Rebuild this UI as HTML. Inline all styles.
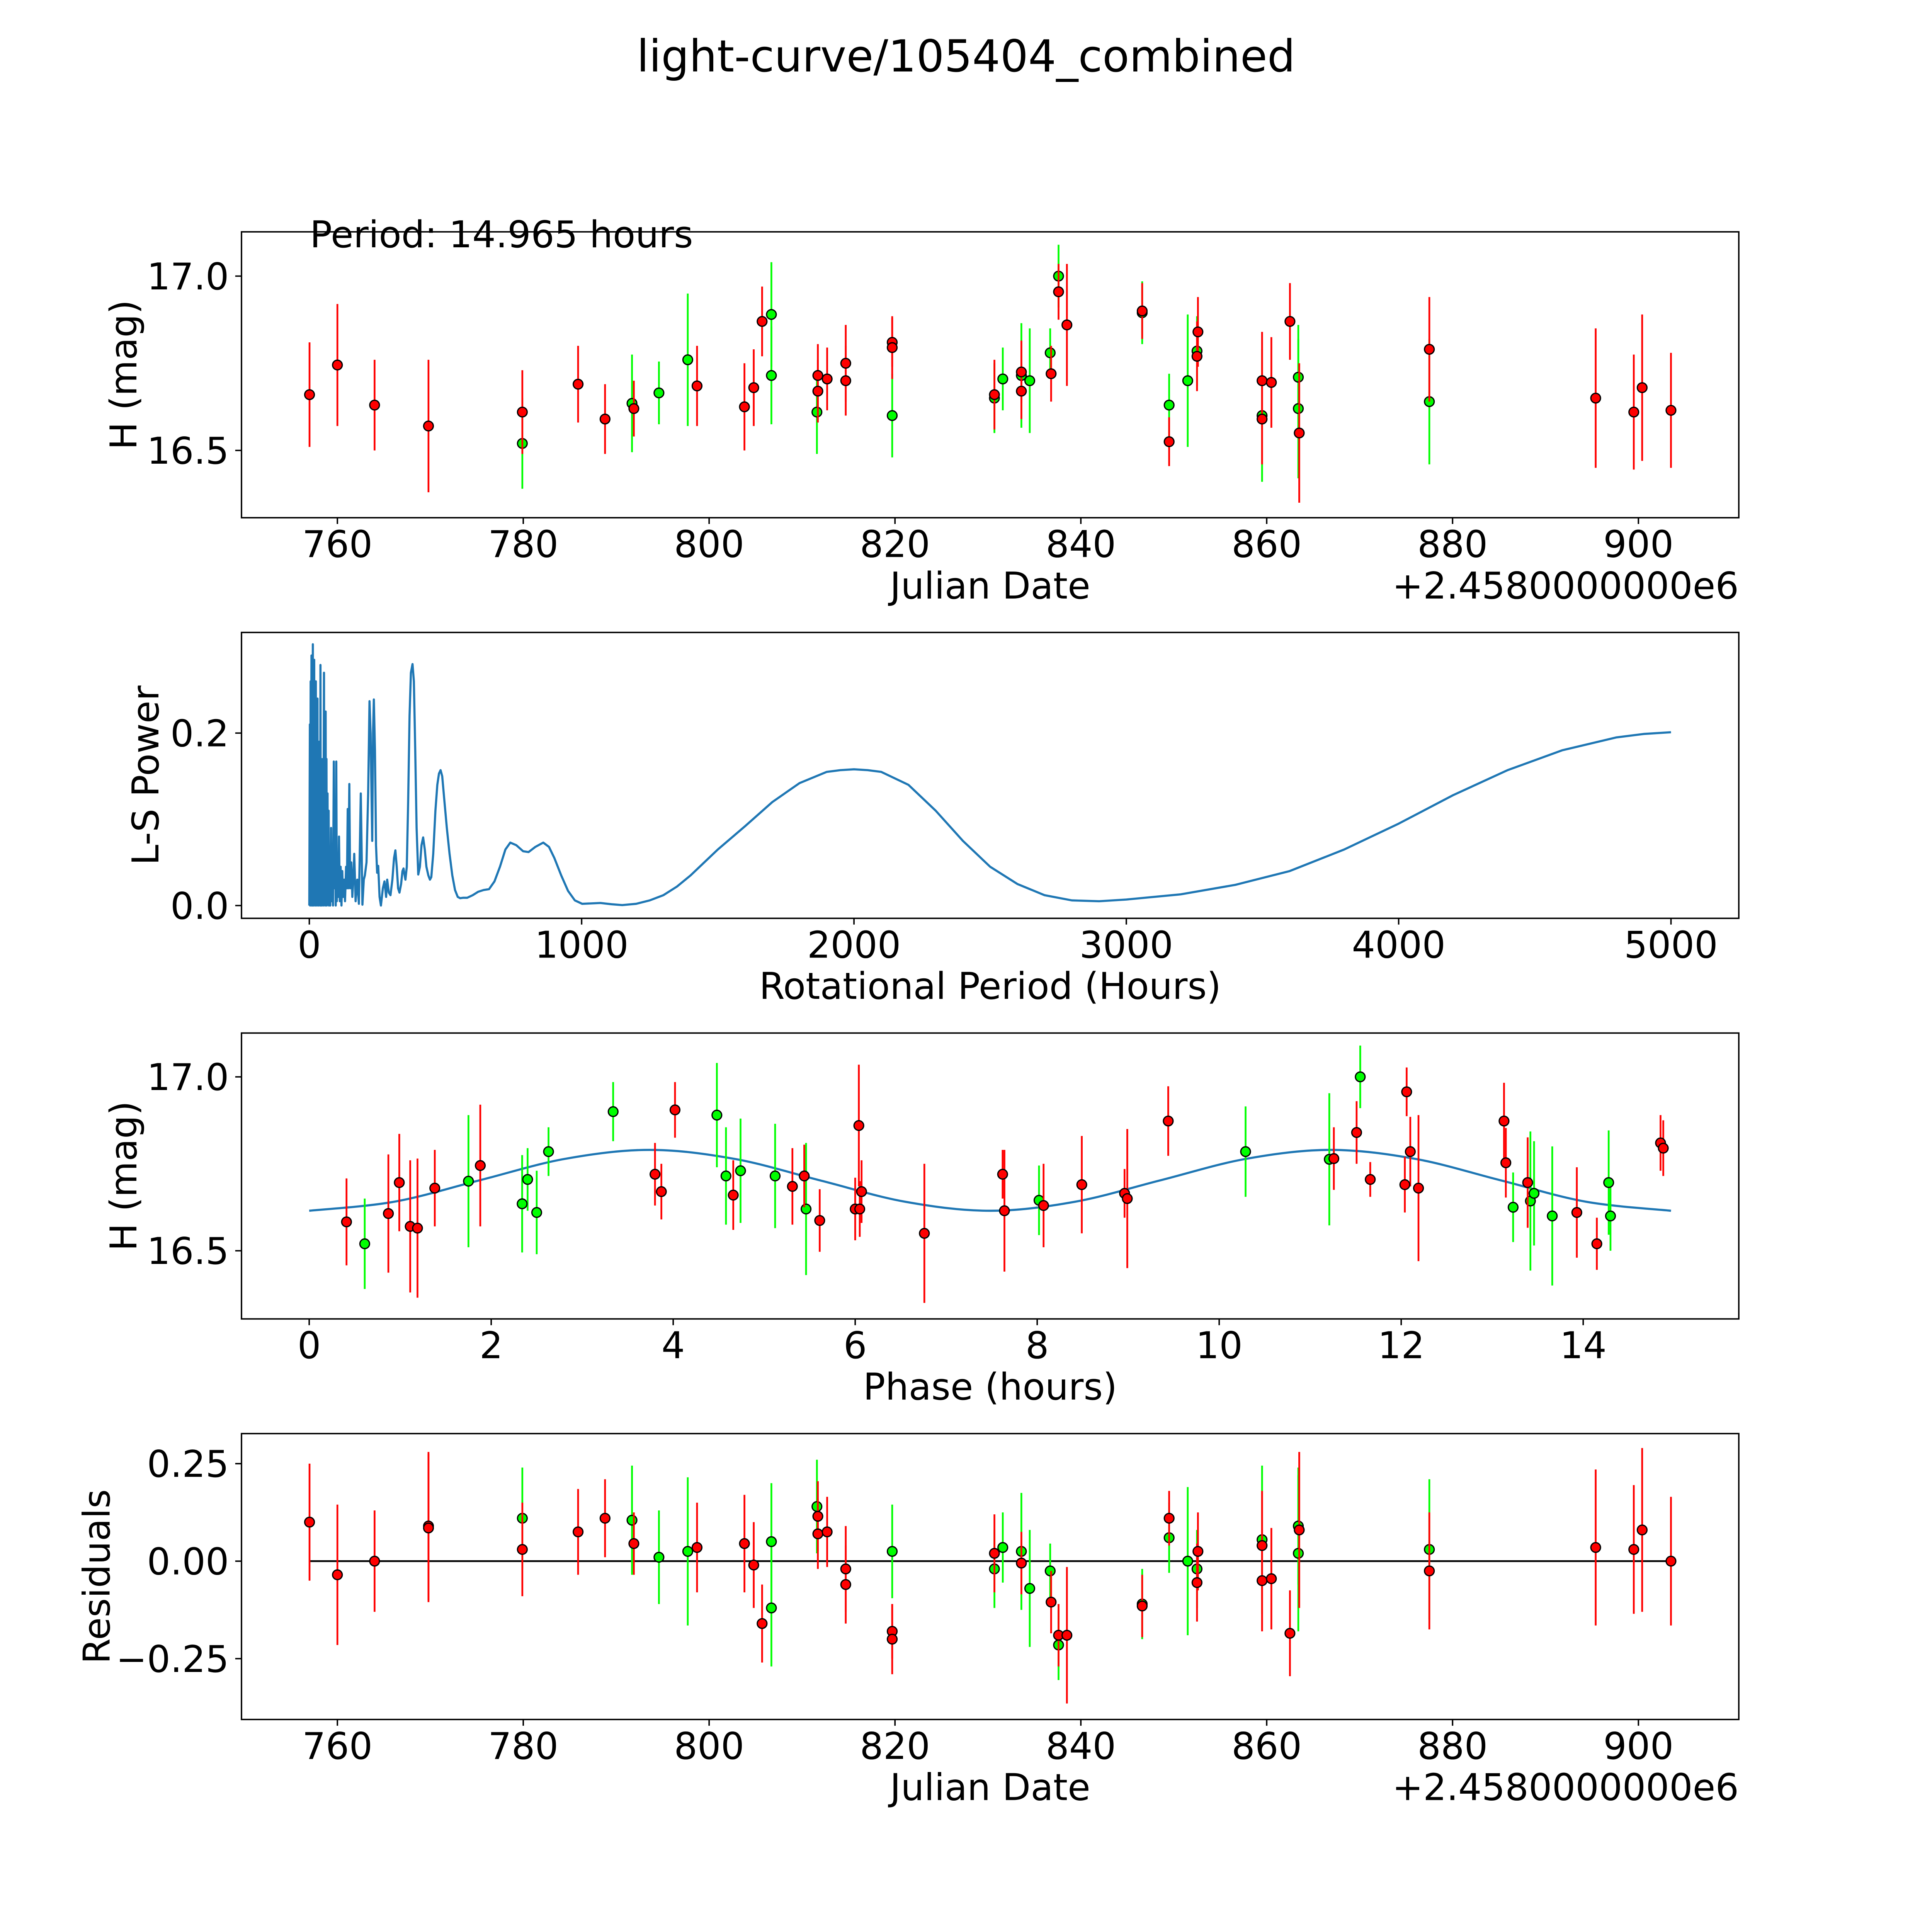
<!DOCTYPE html>
<html><head><meta charset="utf-8"><style>
html,body{margin:0;padding:0;background:#fff;width:100%;height:100%;overflow:hidden;}
svg{display:block;width:100vw;height:100vh;font-family:"DejaVu Sans","Liberation Sans",sans-serif;}
</style></head>
<body>
<svg id="fig" viewBox="0 0 5400 5400" preserveAspectRatio="none" xmlns="http://www.w3.org/2000/svg">
<rect width="5400" height="5400" fill="#fff"/>
<text x="2700" y="200" font-size="123" text-anchor="middle">light-curve/105404_combined</text>
</svg>
<script>
// ---- Panel 1: light curve ----
const lcDate=[757.0,760.0,764.0,769.8,779.9,779.9,785.9,788.8,791.7,791.9,794.6,797.7,798.7,803.8,804.8,805.7,806.7,806.7,811.6,811.7,811.7,812.7,814.7,814.7,819.7,819.7,819.7,830.7,830.7,831.6,833.6,833.6,833.6,834.5,836.7,836.8,837.6,837.6,838.5,846.6,846.6,849.5,849.5,851.5,852.6,852.5,852.5,859.5,859.5,859.5,860.5,862.5,863.4,863.4,863.5,877.5,877.5,895.4,899.5,900.4,903.5];
const lcMag=[16.66,16.745,16.63,16.57,16.61,16.52,16.69,16.59,16.635,16.62,16.665,16.76,16.685,16.625,16.68,16.87,16.89,16.715,16.61,16.715,16.67,16.705,16.75,16.70,16.81,16.795,16.60,16.66,16.65,16.705,16.725,16.715,16.67,16.70,16.78,16.72,17.0,16.955,16.86,16.895,16.90,16.63,16.525,16.70,16.84,16.785,16.77,16.70,16.60,16.59,16.695,16.87,16.71,16.62,16.55,16.79,16.64,16.65,16.61,16.68,16.615];
const lcErr=[0.15,0.175,0.13,0.19,0.12,0.13,0.11,0.10,0.14,0.08,0.09,0.19,0.115,0.125,0.11,0.10,0.15,0.14,0.12,0.09,0.09,0.09,0.11,0.10,0.07,0.09,0.12,0.10,0.10,0.09,0.09,0.15,0.08,0.15,0.07,0.08,0.09,0.08,0.175,0.09,0.08,0.09,0.07,0.19,0.10,0.10,0.10,0.14,0.19,0.13,0.13,0.11,0.15,0.20,0.20,0.15,0.18,0.20,0.165,0.21,0.165];
const lcBand=['r','r','r','r','r','g','r','r','g','r','g','g','r','r','r','r','g','g','g','r','r','r','r','r','r','r','g','r','g','g','r','g','r','g','g','r','g','r','r','g','r','g','r','g','r','g','r','r','g','r','r','r','g','g','r','r','g','r','r','r','r'];

// ---- Panel 2: periodogram ----
const lsPeriod=[0,2,3,5,6,8,9,10,11,13,14,15,16,18,19,21,22,24,25,27,28,30,31,33,34,36,37,39,40,41,42,44,45,47,48,50,51,54,55,57,58,60,61,63,64,67,68,71,72,75,77,80,82,85,87,90,92,95,97,99,101,104,106,109,112,115,118,121,124,128,131,135,138,141,143,147,150,154,158,162,165,170,176,182,189,195,200,204,210,216,221,225,231,234,237,241,245,249,253,258,263,270,276,282,286,292,298,305,311,316,321,326,331,337,342,346,350,353,358,363,368,373,379,384,389,394,400,406,412,418,424,430,437,443,448,455,463,470,476,482,488,495,505,515,525,535,545,554,565,580,600,620,640,660,680,700,720,738,760,785,805,830,859,880,900,925,950,975,1002,1035,1069,1110,1149,1200,1250,1300,1350,1400,1450,1500,1600,1700,1800,1900,1950,2000,2050,2100,2200,2300,2400,2500,2600,2700,2800,2900,3000,3200,3400,3600,3800,4000,4200,4400,4600,4800,4900,5000];
const lsPower=[0,0.21,0,0.26,0.02,0.29,0,0.2,0,0.303,0.01,0.25,0,0.285,0.02,0.22,0,0.26,0.01,0.17,0,0.24,0.01,0.16,0,0.19,0.02,0.15,0,0.279,0.03,0.17,0,0.12,0.01,0.17,0,0.27,0.02,0.13,0,0.225,0.01,0.17,0,0.13,0.01,0.11,0,0.06,0,0.09,0.005,0.06,0,0.167,0.02,0.08,0,0.167,0.005,0.06,0.01,0.08,0.005,0.045,0,0.04,0.01,0.03,0.005,0.045,0.02,0.112,0.02,0.141,0.02,0.05,0.01,0.035,0.06,0.005,0.03,0.002,0.13,0.001,0.03,0.035,0.05,0.13,0.237,0.2,0.075,0.2,0.239,0.18,0.07,0.038,0.046,0.01,0,0.02,0.028,0.01,0.03,0.015,0.012,0.03,0.055,0.064,0.045,0.02,0.015,0.025,0.04,0.043,0.035,0.03,0.045,0.12,0.22,0.27,0.28,0.26,0.18,0.09,0.036,0.045,0.07,0.079,0.065,0.045,0.035,0.03,0.033,0.06,0.11,0.14,0.153,0.157,0.15,0.125,0.09,0.06,0.035,0.018,0.01,0.0085,0.009,0.009,0.012,0.016,0.018,0.019,0.028,0.045,0.065,0.073,0.07,0.063,0.062,0.068,0.073,0.068,0.055,0.035,0.017,0.006,0.002,0.0025,0.003,0.0015,0.0005,0.002,0.006,0.012,0.022,0.035,0.05,0.065,0.092,0.12,0.142,0.155,0.157,0.158,0.157,0.155,0.14,0.11,0.075,0.045,0.025,0.012,0.006,0.005,0.007,0.013,0.024,0.04,0.065,0.095,0.128,0.157,0.18,0.195,0.199,0.201];

// ---- Panel 3: phased ----
const phPhase=[0.41,0.61,0.87,0.99,1.11,1.19,1.38,1.75,1.88,2.34,2.40,2.50,2.63,3.34,3.80,3.87,4.02,4.48,4.58,4.66,4.74,5.12,5.31,5.44,5.46,5.61,6.00,6.04,6.05,6.07,6.76,7.62,7.64,8.02,8.07,8.49,8.96,8.99,9.44,10.29,11.21,11.26,11.51,11.55,11.66,12.04,12.06,12.10,12.19,13.13,13.15,13.23,13.39,13.42,13.46,13.66,13.93,14.15,14.28,14.30,14.85,14.88];
const phMag=[16.583,16.52,16.607,16.696,16.57,16.565,16.68,16.70,16.745,16.635,16.705,16.61,16.785,16.90,16.72,16.67,16.905,16.89,16.715,16.66,16.73,16.715,16.685,16.715,16.62,16.587,16.62,16.86,16.62,16.67,16.55,16.72,16.615,16.645,16.63,16.69,16.665,16.65,16.873,16.785,16.763,16.765,16.84,17.0,16.705,16.69,16.957,16.785,16.68,16.873,16.753,16.625,16.696,16.643,16.665,16.60,16.61,16.52,16.696,16.60,16.81,16.795];
const phErr=[0.125,0.13,0.17,0.14,0.19,0.2,0.11,0.19,0.175,0.14,0.09,0.12,0.07,0.085,0.09,0.08,0.08,0.15,0.14,0.1,0.15,0.15,0.11,0.09,0.19,0.09,0.09,0.175,0.08,0.09,0.2,0.07,0.175,0.1,0.12,0.14,0.07,0.2,0.1,0.13,0.19,0.09,0.09,0.09,0.05,0.08,0.07,0.1,0.21,0.11,0.1,0.1,0.13,0.2,0.15,0.2,0.13,0.075,0.15,0.1,0.08,0.08];
const phBand=['r','g','r','r','r','r','r','g','r','g','g','g','g','g','r','r','r','g','g','r','g','g','r','r','g','r','r','r','r','r','r','r','r','g','r','r','r','r','r','g','g','r','r','g','r','r','r','r','r','r','r','g','r','g','g','g','r','r','g','g','r','r'];
const modelPhase=[0,0.935,1.871,2.806,3.741,4.677,5.612,6.547,7.483,8.418,9.353,10.289,11.224,12.159,13.094,14.030,14.965];
const modelMag=[16.615,16.641,16.7025,16.764,16.79,16.764,16.7025,16.641,16.615,16.641,16.7025,16.764,16.79,16.764,16.7025,16.641,16.615];

// ---- Panel 4: residuals ----
const resDate=[757.0,760.0,764.0,769.8,769.8,779.9,779.9,785.9,788.8,791.7,791.9,794.6,797.7,798.7,803.8,804.8,805.7,806.7,806.7,811.6,811.7,811.7,812.7,814.7,814.7,819.7,819.7,819.7,830.7,830.7,831.6,833.6,833.6,834.5,836.7,836.8,837.6,837.6,838.5,846.6,846.6,849.5,849.5,851.5,852.6,852.5,852.5,859.5,859.5,859.5,860.5,862.5,863.4,863.4,863.5,877.5,877.5,895.4,899.5,900.4,903.5];
const resVal=[0.10,-0.035,0.0,0.09,0.085,0.11,0.03,0.075,0.11,0.105,0.045,0.01,0.025,0.035,0.045,-0.01,-0.16,0.05,-0.12,0.14,0.115,0.07,0.075,-0.02,-0.06,-0.18,-0.20,0.025,-0.02,0.02,0.035,0.025,-0.005,-0.07,-0.025,-0.105,-0.215,-0.19,-0.19,-0.11,-0.115,0.06,0.11,0.0,0.025,-0.02,-0.055,0.055,0.04,-0.05,-0.045,-0.185,0.09,0.02,0.08,0.03,-0.025,0.035,0.03,0.08,0.0];
const resErr=[0.15,0.18,0.13,0.19,0.19,0.13,0.12,0.11,0.10,0.14,0.08,0.12,0.19,0.115,0.125,0.11,0.10,0.15,0.15,0.12,0.09,0.09,0.09,0.11,0.10,0.07,0.09,0.12,0.10,0.10,0.09,0.15,0.08,0.15,0.07,0.08,0.09,0.08,0.175,0.09,0.08,0.09,0.07,0.19,0.10,0.10,0.10,0.19,0.14,0.13,0.13,0.11,0.15,0.20,0.20,0.18,0.15,0.20,0.165,0.21,0.165];
const resBand=['r','r','r','r','r','g','r','r','r','g','r','g','g','r','r','r','r','g','g','g','r','r','r','r','r','r','r','g','g','r','g','g','r','g','g','r','g','r','r','g','r','g','r','g','r','g','r','g','r','r','r','r','g','g','r','g','r','r','r','r','r'];
const xTicksDate=[760,780,800,820,840,860,880,900];
const yTicksMag=[16.5,17.0];
const yTickMagLabels=['16.5','17.0'];
const xTicksPeriod=[0,1000,2000,3000,4000,5000];
const yTicksPower=[0.0,0.2];
const yTickPowerLabels=['0.0','0.2'];
const xTicksPhase=[0,2,4,6,8,10,12,14];
const yTicksRes=[-0.25,0,0.25];
const yTickResLabels=['\u22120.25','0.00','0.25'];

const NS='http://www.w3.org/2000/svg';
const fig=document.getElementById('fig');
function mk(tag,attrs,parent){const e=document.createElementNS(NS,tag);for(const k in attrs)e.setAttribute(k,attrs[k]);(parent||fig).appendChild(e);return e;}
const L=675,R=4860,FS=103;
const TOPS=[648,1767.7,2887.4,4007];const H=799;
function lin(d0,d1,p0,p1){return v=>p0+(v-d0)*(p1-p0)/(d1-d0);}
const sxD=lin(749.68,910.8,L,R);
const sy1=lin(17.127,16.307,TOPS[0],TOPS[0]+H);
const sx2=lin(-249,5249,L,R);
const sy2=lin(0.3167,-0.0148,TOPS[1],TOPS[1]+H);
const sx3=lin(-0.744,15.71,L,R);
const sy3=lin(17.126,16.304,TOPS[2],TOPS[2]+H);
const sy4=lin(0.327,-0.406,TOPS[3],TOPS[3]+H);
const COL={r:'#ff0000',g:'#00ff00'};

function axes(i,name,xt,xtl,sx,yt,ytl,sy,xlabel,xlabY,ylabel,ylabX,offset){
  const g=mk('g',{});
  
  
  const top=TOPS[i],bot=top+H;
  xt.forEach((v,k)=>{const x=sx(v);
    const t=mk('line',{x1:x,x2:x,y1:bot,y2:bot+17.5,stroke:'#000','stroke-width':4},g);
    
    
    const tl=mk('text',{x:x,y:bot+110,'font-size':FS,'text-anchor':'middle'},g);tl.textContent=xtl[k];
    
    
  });
  yt.forEach((v,k)=>{const y=sy(v);
    const t=mk('line',{x1:L-17.5,x2:L,y1:y,y2:y,stroke:'#000','stroke-width':4},g);
    
    
    const tl=mk('text',{x:L-35,y:y+37,'font-size':FS,'text-anchor':'end'},g);tl.textContent=ytl[k];
    
    
  });
  const xl=mk('text',{x:(L+R)/2,y:xlabY,'font-size':FS,'text-anchor':'middle'},g);xl.textContent=xlabel;
  
  
  const cy=top+H/2;
  const yl=mk('text',{x:ylabX+37,y:cy,'font-size':FS,'text-anchor':'middle',transform:`rotate(-90 ${ylabX+37} ${cy})`},g);yl.textContent=ylabel;
  
  
  if(offset){const o=mk('text',{x:R,y:xlabY,'font-size':FS,'text-anchor':'end'},g);o.textContent=offset;
    
    }
  return g;
}
function frame(i){const f=mk('rect',{x:L,y:TOPS[i],width:R-L,height:H,fill:'none',stroke:'#000','stroke-width':4});
  
  }
function errpoints(xs,ys,es,bs,sx,sy,name){
  const g=mk('g',{});
  
  
  ['g','r'].forEach(b=>{
    xs.forEach((x,k)=>{if(bs[k]!==b)return;
      const l=mk('line',{x1:sx(x),x2:sx(x),y1:sy(ys[k]-es[k]),y2:sy(ys[k]+es[k]),stroke:COL[b],'stroke-width':5},g);
      
      });
    xs.forEach((x,k)=>{if(bs[k]!==b)return;
      const c=mk('circle',{cx:sx(x),cy:sy(ys[k]),r:13.5,fill:COL[b],stroke:'#000','stroke-width':3.5},g);
      
      });
  });
}
function poly(xs,ys,sx,sy,name){
  const pts=xs.map((x,k)=>sx(x).toFixed(1)+','+sy(ys[k]).toFixed(1)).join(' ');
  const p=mk('polyline',{points:pts,fill:'none',stroke:'#1f77b4','stroke-width':6,'stroke-linejoin':'round'});
  
  
}
function smooth(xs,ys,sx,sy,name){
  const P=xs.map((x,k)=>[sx(x),sy(ys[k])]);
  let d='M'+P[0][0]+','+P[0][1];
  for(let i=0;i<P.length-1;i++){const p0=P[Math.max(0,i-1)],p1=P[i],p2=P[i+1],p3=P[Math.min(P.length-1,i+2)];
    d+=` C${p1[0]+(p2[0]-p0[0])/6},${p1[1]+(p2[1]-p0[1])/6} ${p2[0]-(p3[0]-p1[0])/6},${p2[1]-(p3[1]-p1[1])/6} ${p2[0]},${p2[1]}`;}
  const p=mk('path',{d:d,fill:'none',stroke:'#1f77b4','stroke-width':6});
  
  
}
const dateLbl=xTicksDate.map(String);
// Panel 1
axes(0,'light-curve-axes',xTicksDate,dateLbl,sxD,yTicksMag,yTickMagLabels,sy1,'Julian Date',1673,'H (mag)',344,'+2.4580000000e6');
errpoints(lcDate,lcMag,lcErr,lcBand,sxD,sy1,'light-curve-series');
frame(0);
const pt=mk('text',{x:866,y:691,'font-size':FS});pt.textContent='Period: 14.965 hours';


// Panel 2
axes(1,'periodogram-axes',xTicksPeriod,xTicksPeriod.map(String),sx2,yTicksPower,yTickPowerLabels,sy2,'Rotational Period (Hours)',2792,'L-S Power',406,null);
poly(lsPeriod,lsPower,sx2,sy2,'periodogram-line');
frame(1);
// Panel 3
axes(2,'phase-axes',xTicksPhase,xTicksPhase.map(String),sx3,yTicksMag,yTickMagLabels,sy3,'Phase (hours)',3912,'H (mag)',344,null);
smooth(modelPhase,modelMag,sx3,sy3,'model-curve');
errpoints(phPhase,phMag,phErr,phBand,sx3,sy3,'phased-series');
frame(2);
// Panel 4
axes(3,'residuals-axes',xTicksDate,dateLbl,sxD,yTicksRes,yTickResLabels,sy4,'Julian Date',5031,'Residuals',269,'+2.4580000000e6');
const zl=mk('line',{x1:sxD(757),x2:sxD(903.5),y1:sy4(0),y2:sy4(0),stroke:'#000','stroke-width':5});


errpoints(resDate,resVal,resErr,resBand,sxD,sy4,'residual-series');
frame(3);
</script>
</body></html>
